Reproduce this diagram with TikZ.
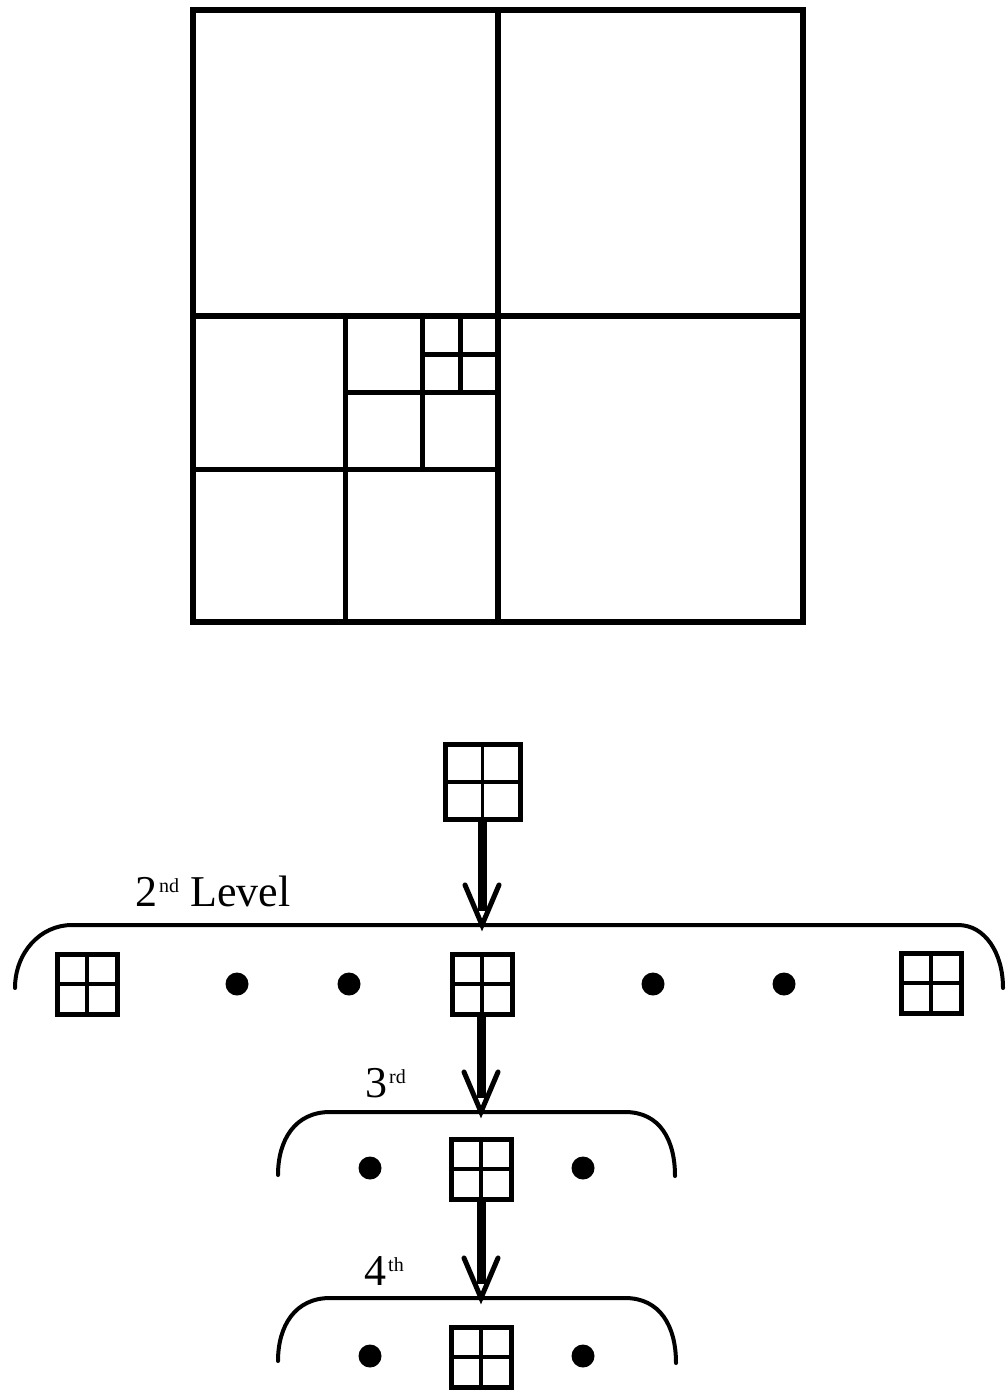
\documentclass[tikz,border=0pt]{standalone}
\usepackage{fontspec}
\setmainfont{Liberation Serif}
\newcommand\supx[1]{\hspace{2pt}\raisebox{14pt}{\fontsize{20}{20}\selectfont #1}}
\begin{document}
\begin{tikzpicture}[x=1pt,y=-1pt,
  qt/.style={line width=5.5pt,line cap=rect},
  qtin/.style={line width=5pt},
  qbox/.style={draw,line width=5pt,inner sep=0pt,outer sep=0pt,minimum size=60pt,
    path picture={\draw[line width=3.5pt] (path picture bounding box.north) -- (path picture bounding box.south)
      (path picture bounding box.west) -- (path picture bounding box.east);}},
  bigqbox/.style={qbox,minimum size=75pt},
  dotn/.style={circle,fill=black,inner sep=0pt,minimum size=23pt},
  bracel/.style={line width=4pt,line cap=round},
  shaft/.style={line width=9pt},
  barb/.style={line width=5pt,line cap=round,line join=miter},
  lbl/.style={font=\fontsize{44}{44}\selectfont,inner sep=0pt,anchor=base west}]
\useasboundingbox (0,0) rectangle (1006,1397);
% quadtree
\draw[qt] (193,10) rectangle (803,622);
\draw[qt] (498,10) -- (498,622) (193,316) -- (803,316);
\draw[qtin] (345.5,316) -- (345.5,622) (193,469) -- (498,469);
\draw[qtin] (422,316) -- (422,469) (345.5,392.5) -- (498,392.5);
\draw[qtin] (460,316) -- (460,392.5) (422,354) -- (498,354);
% tree
\node[bigqbox] (top) at (482.5,782) {};
% level 2
\draw[bracel] (15,988) .. controls (15,953) and (40,925) .. (72,925) -- (958,925)
  .. controls (985,925) and (1003,953) .. (1003,988);
\coordinate (t2) at (482,925);
\node[lbl] (l2) at (135,906) {2\supx{nd} Level};
\node[qbox] (b2l) at (87,984) {};
\node[dotn] (d2a) at (237,984) {};
\node[dotn] (d2b) at (349,984) {};
\node[qbox] (b2c) at (482,984) {};
\node[dotn] (d2c) at (653,984) {};
\node[dotn] (d2d) at (784,984) {};
\node[qbox] (b2r) at (931,983) {};
% level 3
\draw[bracel] (278,1175) .. controls (278,1140) and (295,1112) .. (330,1112) -- (625,1112)
  .. controls (660,1112) and (675,1140) .. (675,1176);
\coordinate (t3) at (481,1112);
\node[lbl] (l3) at (365,1097) {3\supx{rd}};
\node[dotn] (d3a) at (370,1168) {};
\node[qbox] (b3) at (481,1169) {};
\node[dotn] (d3b) at (583,1168) {};
% level 4
\draw[bracel] (278,1361) .. controls (278,1326) and (295,1298) .. (330,1298) -- (625,1298)
  .. controls (660,1298) and (676,1326) .. (676,1363);
\coordinate (t4) at (481,1298);
\node[lbl] (l4) at (364,1285) {4\supx{th}};
\node[dotn] (d4a) at (370,1356) {};
\node[qbox] (b4) at (481,1357) {};
\node[dotn] (d4b) at (583,1356) {};
% arrows
\foreach \src/\tip in {top/t2,b2c/t3,b3/t4}{
  \draw[shaft] (\tip |- \src.south) -- ([yshift=14pt]\tip);
  \draw[barb] ([shift={(-17pt,40pt)}]\tip) -- (\tip) -- ([shift={(17pt,40pt)}]\tip);
}
\end{tikzpicture}
\end{document}
